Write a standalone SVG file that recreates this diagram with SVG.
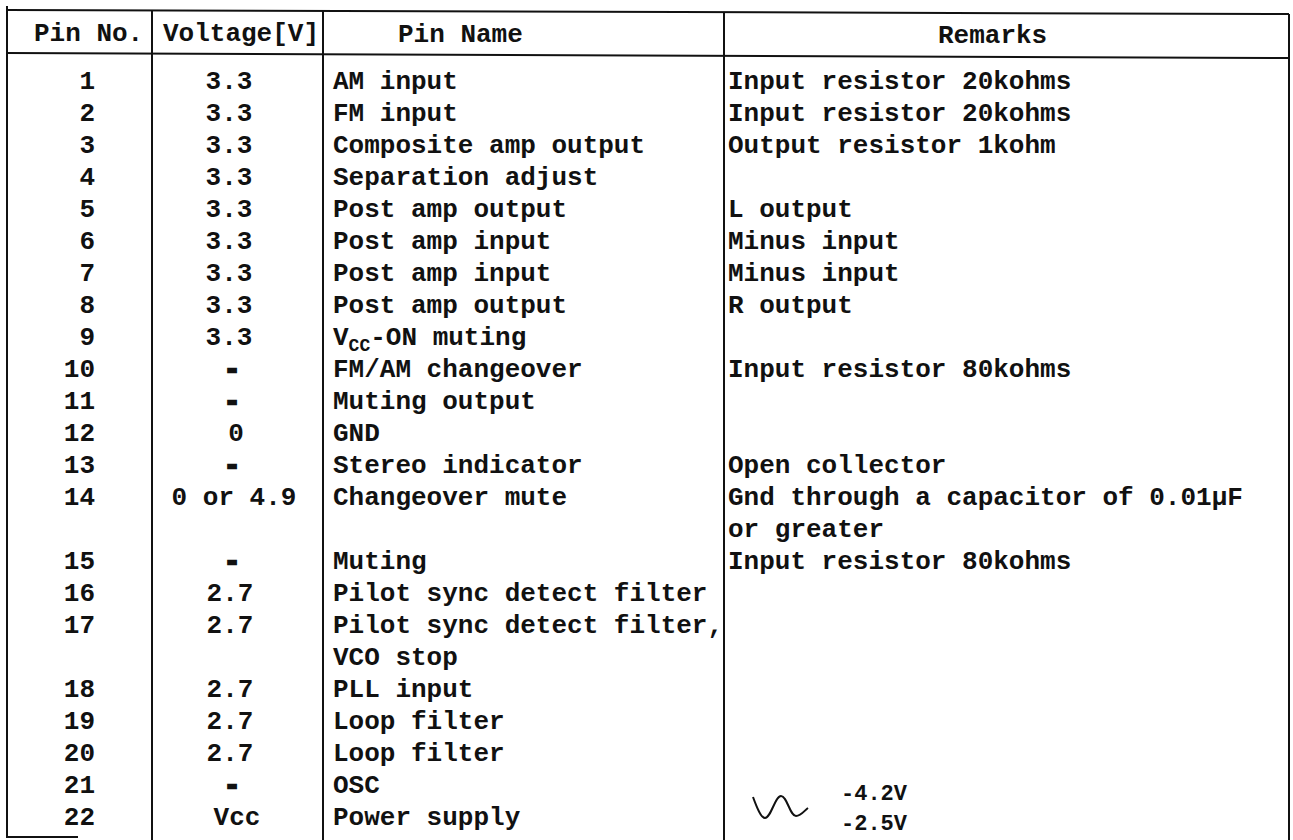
<svg xmlns="http://www.w3.org/2000/svg" width="1293" height="840" viewBox="0 0 1293 840">
<style>
.t{font-family:"Liberation Mono","Courier New",monospace;font-size:26px;font-weight:bold;fill:#111}
.c{text-anchor:middle}
.e{text-anchor:end}
.d{stroke:#111;stroke-width:2.5}
.ln{stroke:#111;stroke-width:2;fill:none}
.s{font-family:"Liberation Mono","Courier New",monospace;font-size:22px;font-weight:bold;fill:#111}
</style>
<rect width="1293" height="840" fill="#fff"/>
<g id="grid">
<line class="ln" x1="7" y1="10" x2="1289" y2="14"/>
<line class="ln" x1="7" y1="53" x2="1289" y2="58"/>
<line class="ln" x1="7" y1="6" x2="7" y2="838"/>
<line class="ln" x1="152" y1="10" x2="152" y2="840"/>
<line class="ln" x1="323" y1="11" x2="323" y2="840"/>
<line class="ln" x1="724" y1="12" x2="724" y2="840"/>
<line class="ln" x1="1289" y1="14" x2="1289" y2="840"/>
<line class="ln" x1="7" y1="837" x2="78" y2="837"/>
</g>
<g id="header">
<text class="t" x="34" y="41">Pin No.</text>
<text class="t" x="163" y="41">Voltage[V]</text>
<text class="t" x="398" y="42">Pin Name</text>
<text class="t" x="938" y="43">Remarks</text>
</g>
<g id="col-pin">
<text class="t e" x="95" y="89">1</text>
<text class="t e" x="95" y="121">2</text>
<text class="t e" x="95" y="153">3</text>
<text class="t e" x="95" y="185">4</text>
<text class="t e" x="95" y="217">5</text>
<text class="t e" x="95" y="249">6</text>
<text class="t e" x="95" y="281">7</text>
<text class="t e" x="95" y="313">8</text>
<text class="t e" x="95" y="345">9</text>
<text class="t e" x="95" y="377">10</text>
<text class="t e" x="95" y="409">11</text>
<text class="t e" x="95" y="441">12</text>
<text class="t e" x="95" y="473">13</text>
<text class="t e" x="95" y="505">14</text>
<text class="t e" x="95" y="569">15</text>
<text class="t e" x="95" y="601">16</text>
<text class="t e" x="95" y="633">17</text>
<text class="t e" x="95" y="697">18</text>
<text class="t e" x="95" y="729">19</text>
<text class="t e" x="95" y="761">20</text>
<text class="t e" x="95" y="793">21</text>
<text class="t e" x="95" y="825">22</text>
</g>
<g id="col-voltage">
<text class="t c" x="229" y="89">3.3</text>
<text class="t c" x="229" y="121">3.3</text>
<text class="t c" x="229" y="153">3.3</text>
<text class="t c" x="229" y="185">3.3</text>
<text class="t c" x="229" y="217">3.3</text>
<text class="t c" x="229" y="249">3.3</text>
<text class="t c" x="229" y="281">3.3</text>
<text class="t c" x="229" y="313">3.3</text>
<text class="t c" x="229" y="345">3.3</text>
<text class="t c d" x="232" y="377">-</text>
<text class="t c d" x="232" y="409">-</text>
<text class="t c" x="236" y="441">0</text>
<text class="t c d" x="232" y="473">-</text>
<text class="t c" x="234" y="505">0 or 4.9</text>
<text class="t c d" x="232" y="569">-</text>
<text class="t c" x="230" y="601">2.7</text>
<text class="t c" x="230" y="633">2.7</text>
<text class="t c" x="230" y="697">2.7</text>
<text class="t c" x="230" y="729">2.7</text>
<text class="t c" x="230" y="761">2.7</text>
<text class="t c d" x="232" y="793">-</text>
<text class="t c" x="237" y="825">Vcc</text>
</g>
<g id="col-name">
<text class="t" x="333" y="89">AM input</text>
<text class="t" x="333" y="121">FM input</text>
<text class="t" x="333" y="153">Composite amp output</text>
<text class="t" x="333" y="185">Separation adjust</text>
<text class="t" x="333" y="217">Post amp output</text>
<text class="t" x="333" y="249">Post amp input</text>
<text class="t" x="333" y="281">Post amp input</text>
<text class="t" x="333" y="313">Post amp output</text>
<text class="t" x="333" y="345">V<tspan font-size="18" dy="6">CC</tspan><tspan dy="-6">-ON muting</tspan></text>
<text class="t" x="333" y="377">FM/AM changeover</text>
<text class="t" x="333" y="409">Muting output</text>
<text class="t" x="333" y="441">GND</text>
<text class="t" x="333" y="473">Stereo indicator</text>
<text class="t" x="333" y="505">Changeover mute</text>
<text class="t" x="333" y="569">Muting</text>
<text class="t" x="333" y="601">Pilot sync detect filter</text>
<text class="t" x="333" y="633">Pilot sync detect filter,</text>
<text class="t" x="333" y="665">VCO stop</text>
<text class="t" x="333" y="697">PLL input</text>
<text class="t" x="333" y="729">Loop filter</text>
<text class="t" x="333" y="761">Loop filter</text>
<text class="t" x="333" y="793">OSC</text>
<text class="t" x="333" y="825">Power supply</text>
</g>
<g id="col-remarks">
<text class="t" x="728" y="89">Input resistor 20kohms</text>
<text class="t" x="728" y="121">Input resistor 20kohms</text>
<text class="t" x="728" y="153">Output resistor 1kohm</text>
<text class="t" x="728" y="217">L output</text>
<text class="t" x="728" y="249">Minus input</text>
<text class="t" x="728" y="281">Minus input</text>
<text class="t" x="728" y="313">R output</text>
<text class="t" x="728" y="377">Input resistor 80kohms</text>
<text class="t" x="728" y="473">Open collector</text>
<text class="t" x="728" y="505">Gnd through a capacitor of 0.01μF</text>
<text class="t" x="728" y="537">or greater</text>
<text class="t" x="728" y="569">Input resistor 80kohms</text>
</g>
<g id="osc-wave">
<path class="ln" d="M753,797 C757,808 761,818 765,818 C771,818 775,796 781,796 C787,796 790,816 796,816 C801,816 805,810 808,808"/>
<text class="s" x="841" y="800">-4.2V</text>
<text class="s" x="841" y="830">-2.5V</text>
</g>
</svg>
